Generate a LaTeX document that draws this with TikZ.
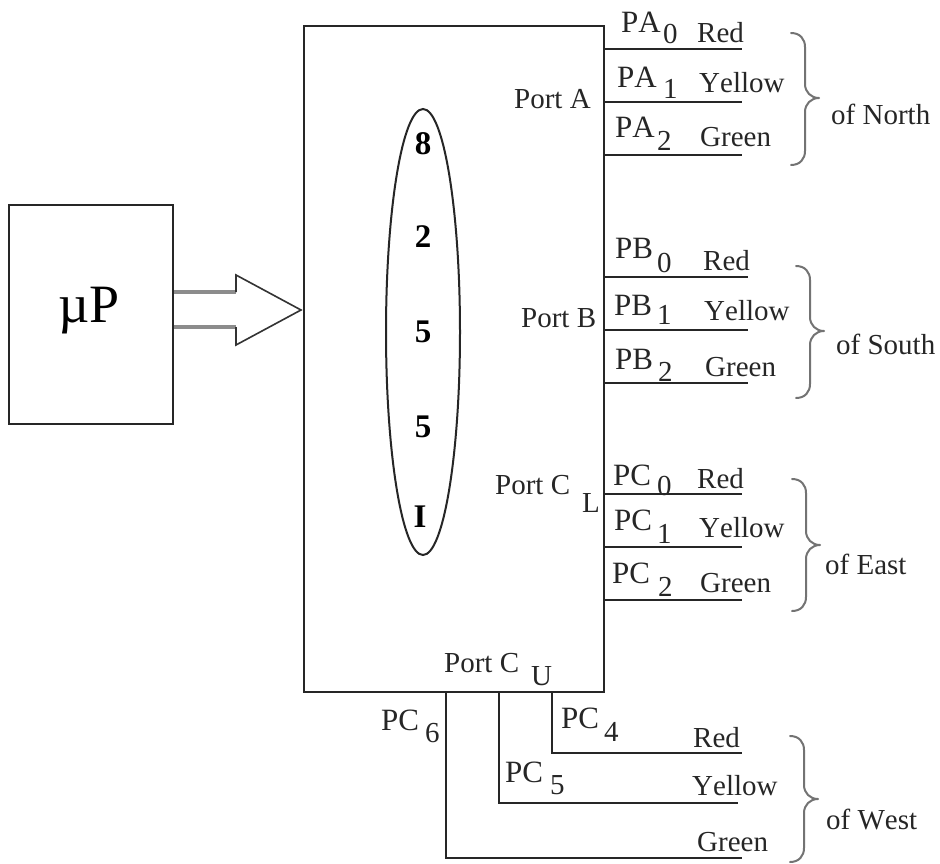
\documentclass[tikz,border=0pt]{standalone}
\usepackage{fontspec}
\setmainfont[Kerning=Off]{Liberation Serif}
\tikzset{
  wire/.style={line width=2pt,black!85},
  boxed/.style={draw=black!85,line width=2pt,fill=white,inner sep=0pt},
  brc/.style={line width=2pt,black!55,line cap=round,line join=round},
  lbl/.style={anchor=base west,inner sep=0pt,font=\fontsize{29}{31}\selectfont,text=black!85},
  pinlbl/.style={lbl,font=\fontsize{31}{33}\selectfont},
  digit/.style={anchor=center,inner sep=0pt,font=\fontsize{33}{35}\selectfont\bfseries,text=black},
}
\newcommand{\bracepath}[4]{% x top-left, ytop, ytip, ybottom
  \draw[brc] (#1,#2) .. controls (#1+9,#2) and (#1+14,#2+6) .. (#1+14,#2+14)
    -- (#1+14,#3-14) .. controls (#1+14,#3-6) and (#1+20,#3) .. (#1+28,#3)
    .. controls (#1+20,#3) and (#1+14,#3+6) .. (#1+14,#3+14)
    -- (#1+14,#4-14) .. controls (#1+14,#4-6) and (#1+9,#4) .. (#1,#4);}
\begin{document}
\begin{tikzpicture}[x=1pt,y=-1pt]
\useasboundingbox (0,0) rectangle (940,864);
% boxes
\node[boxed,minimum width=300pt,minimum height=666pt] (main) at (454,359) {};
\node[boxed,minimum width=164pt,minimum height=219pt] (up) at (91,314.5) {};
\node[inner sep=0pt,anchor=base west,font=\fontsize{54}{56}\selectfont,text=black] (uplabel) at (58,322) {µP};
% hollow arrow
\coordinate (a1) at (up.east |- 0,292);
\coordinate (a2) at (up.east |- 0,327);
\coordinate (a3) at (236,292);
\coordinate (a4) at (236,327);
\coordinate (a5) at (236,275);
\coordinate (a6) at (236,345);
\coordinate (tip) at (301,310);
\draw[line width=4pt,black!45] (a1) -- (a3) (a2) -- (a4);
\draw[line width=1.6pt,black!80,line join=miter] (a3) -- (a5) -- (tip) -- (a6) -- (a4);
% ellipse with 8255I
\draw[line width=2pt,black!85] (423,332) ellipse [x radius=37,y radius=223];
\node[digit] (d1) at (423,144) {8};
\node[digit] (d2) at (423,237) {2};
\node[digit] (d3) at (423,332) {5};
\node[digit] (d4) at (423,427) {5};
\node[digit] (d5) at (420,517) {I};
% wire ends
\foreach \n/\yy/\xe in {pa0/49/742,pa1/102/742,pa2/155/742,pb0/277/748,pb1/330/748,pb2/383/748,pc0/494/742,pc1/547/742,pc2/600/742}{
  \coordinate (\n s) at (main.east |- 0,\yy);
  \coordinate (\n e) at (\xe,\yy);
  \draw[wire] (\n s) -- (\n e);
}
\foreach \n/\xs/\yy/\xe in {pc4/552/753/742,pc5/499/803/738,pc6/446/858/742}{
  \coordinate (\n s) at (\xs,692);
  \coordinate (\n e) at (\xe,\yy);
  \draw[wire] (\n s) |- (\n e);
}
% pin names
\foreach \n/\xx/\yy/\t in {
 pa0t/621/33/PA, pa1t/617/88/PA, pa2t/615/138/PA,
 pb0t/615/258/PB, pb1t/614/315/PB, pb2t/615/369/PB,
 pc0t/613/485/PC, pc1t/614/530/PC, pc2t/612/583/PC,
 pc4t/561/728/PC, pc5t/505/782/PC, pc6t/381/730/PC}{
  \node[pinlbl] (\n) at (\xx,\yy) {\t};
}
% other labels
\foreach \n/\xx/\yy/\t in {
 pa0n/663/44/0, pa0c/697/43/Red,
 pa1n/663/99/1, pa1c/699/93/Yellow,
 pa2n/657/150/2, pa2c/700/147/Green,
 pb0n/657/272/0, pb0c/703/270/Red,
 pb1n/657/324/1, pb1c/704/320/Yellow,
 pb2n/658/381/2, pb2c/705/376/Green,
 pc0n/657/495/0, pc0c/697/488/Red,
 pc1n/657/543/1, pc1c/699/537/Yellow,
 pc2n/658/596/2, pc2c/700/592/Green,
 pc4n/604/741/4, pc4c/693/747/Red,
 pc5n/550/794/5, pc5c/692/795/Yellow,
 pc6n/425/742/6, pc6c/697/851/Green,
 porta/514/109/Port A, portb/521/327/Port B, portcl/495/494/Port C, portclL/582/512/L,
 portcu/444/672/Port C, portcuU/531/685/U,
 north/831/125/of North, south/836/354/of South, east/825/574/of East, west/826/829/of West}{
  \node[lbl] (\n) at (\xx,\yy) {\t};
}
% braces
\bracepath{791}{33}{98}{165}
\bracepath{796}{266}{331}{398}
\bracepath{792}{479}{545}{611}
\bracepath{790}{736}{799}{862}
\end{tikzpicture}
\end{document}
